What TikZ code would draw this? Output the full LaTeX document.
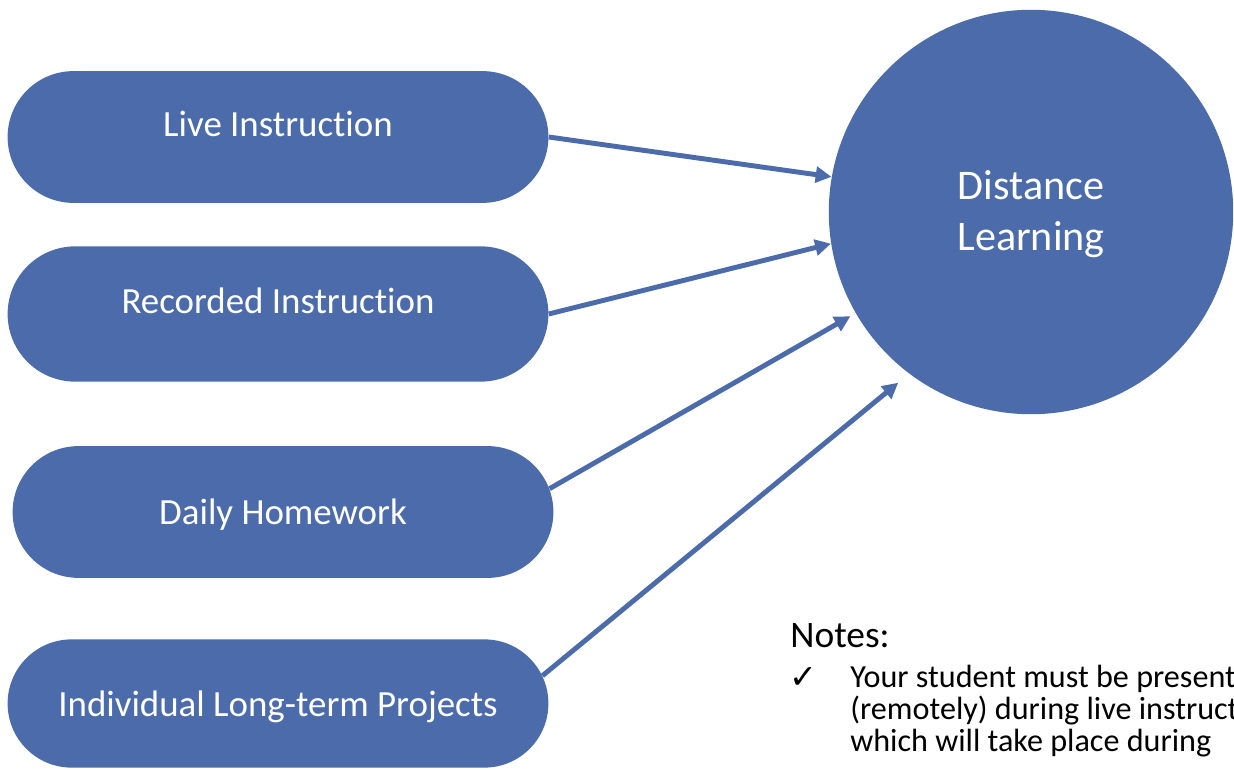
\documentclass[tikz,border=0pt]{standalone}
\usepackage{fontspec}
\setmainfont{Carlito}[Ligatures=NoCommon]
\newfontfamily\checkfont{DejaVu Sans}
\usetikzlibrary{shapes.misc,arrows.meta}
\definecolor{dlblue}{RGB}{75,107,171}

\begin{document}
\begin{tikzpicture}[x=0.02cm,y=-0.02cm,
		pill/.style={rounded rectangle,fill=dlblue,text=white,minimum width=307.8pt,minimum height=75pt,
			inner sep=0pt,font=\fontsize{21}{25}\selectfont,text height=0.35em,text depth=0.35em},
		lowtext/.style={text height=1.45em,text depth=0pt},
		link/.style={draw=dlblue,line width=2.8pt,-{Triangle[length=9pt,width=9pt]}}]
			\useasboundingbox (0,0) rectangle (1234,770);
			\clip (0,0) rectangle (1234,770);
			% the four parts
			\node[pill] (live) at (278,137) {Live Instruction};
			\node[pill,minimum height=77pt] (recorded) at (278,314) {Recorded Instruction};
			\node[pill,lowtext] (daily) at (283,512) {Daily Homework};
			\node[pill,lowtext,minimum height=73pt] (projects) at (278,703.5) {Individual Long-term Projects};
			% the whole
			\node[circle,fill=dlblue,text=white,minimum size=230.2pt,inner sep=0pt,align=center,
				text height=48.8pt,text depth=4.5pt,
				font=\fontsize{24}{29.5}\selectfont] (dl) at (1031,212) {Distance\\Learning};
			\draw[link] (live.east) -- (dl.170);
			\draw[link] (recorded.east) -- (dl.189);
			\draw[link,shorten >=3.4pt] (daily.5) -- (dl.210);
			\draw[link,shorten >=8pt] (projects.6) -- (dl.233.5);
			% notes
			\node[anchor=base west,inner sep=0pt,font=\fontsize{21.3}{25}\selectfont] (notes) at (790,647) {Notes:};
			\node[anchor=base west,inner sep=0pt,font=\checkfont\fontsize{19}{20}\selectfont] (tick) at (789,688) {✓};
			\node[anchor=north west,inner sep=0pt,align=left,font=\fontsize{18.3}{18.3}\selectfont] (note1) at (850,665)
				{Your student must be present\\(remotely) during live instruction\\which will take place during};
\end{tikzpicture}
\end{document}
